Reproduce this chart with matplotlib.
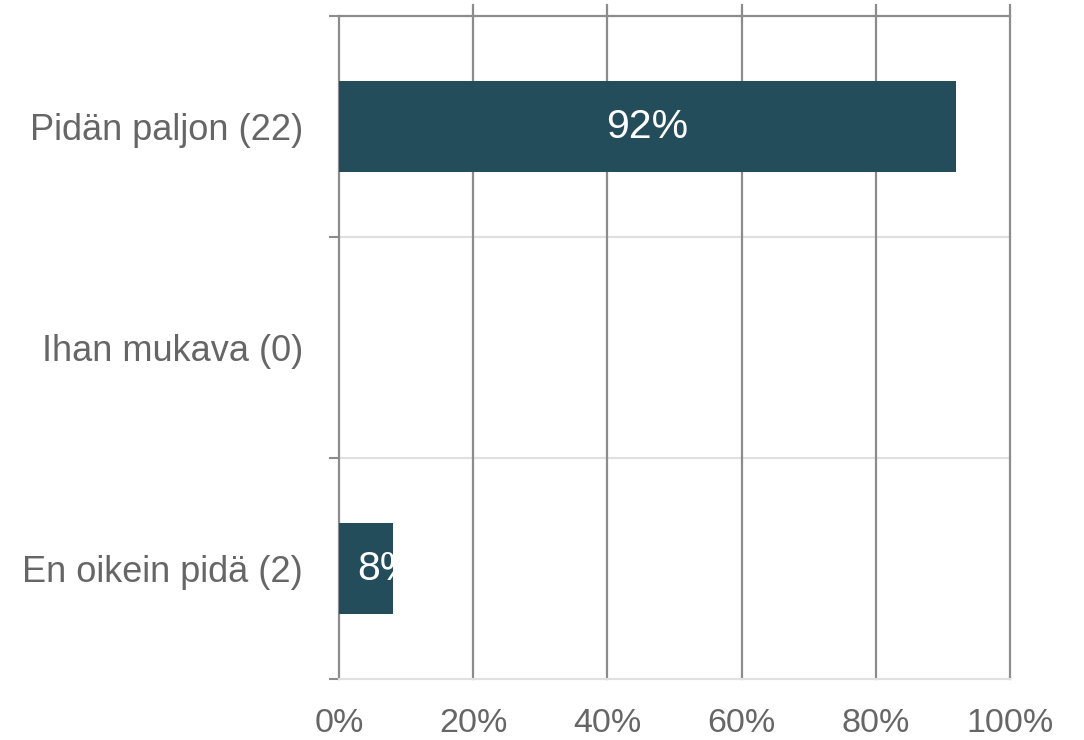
import matplotlib.pyplot as plt

plt.rcParams['font.family'] = ['Liberation Sans', 'DejaVu Sans']

categories = ['Pidän paljon (22)', 'Ihan mukava (0)', 'En oikein pidä (2)']
values = [92, 0, 8]
bar_labels = ['92%', '', '8%']
xticks = [0, 20, 40, 60, 80, 100]
xtick_labels = ['0%', '20%', '40%', '60%', '80%', '100%']

bar_color = '#234d5a'
dark = '#8c8c8c'
light = '#e0e0e0'
text_gray = '#666666'

fig = plt.figure(figsize=(10.84, 7.4), dpi=100)
ax = fig.add_axes([339 / 1084, 1 - 679 / 740, 671 / 1084, 663 / 740])

ypos = list(range(len(categories)))
bars = ax.barh(ypos, values, height=0.41, color=bar_color, zorder=3)
ax.set_xlim(0, 100)
ax.set_ylim(len(categories) - 0.5, -0.5)

# vertical grid lines run a bit above the plot area
for x in xticks[1:]:
    ax.axvline(x, ymin=0, ymax=1.0166, color=dark, lw=1.6, clip_on=False, zorder=1)
# category separators
for y in [0.5, 1.5]:
    ax.axhline(y, color=light, lw=1.5, zorder=0)

for bar, v, lab in zip(bars, values, bar_labels):
    if not lab:
        continue
    yc = bar.get_y() + bar.get_height() / 2
    if v > 20:
        t = ax.text(v / 2, yc, lab, ha='center', va='center', color='white',
                    fontsize=29.5, zorder=4)
    else:
        t = ax.annotate(lab, (0, yc), xytext=(13, 0), textcoords='offset points',
                        ha='left', va='center', color='white', fontsize=29.5, zorder=4)
    t.set_clip_path(bar)

ax.set_xticks(xticks)
ax.set_xticklabels(xtick_labels)
ax.set_yticks(ypos)
ax.set_yticklabels(categories)
ax.set_yticks([-0.5, 0.5, 1.5, 2.5], minor=True)

ax.tick_params(axis='x', length=0, pad=21, labelsize=24.5, labelcolor=text_gray)
ax.tick_params(axis='y', which='major', length=0, pad=26, labelsize=26, labelcolor=text_gray)
ax.tick_params(axis='y', which='minor', length=7.5, width=1.5, color=dark)

ax.spines['left'].set_color(dark)
ax.spines['left'].set_linewidth(1.6)
ax.spines['top'].set_color(dark)
ax.spines['top'].set_linewidth(1.6)
ax.spines['bottom'].set_color(light)
ax.spines['bottom'].set_linewidth(1.5)
ax.spines['right'].set_visible(False)

fig.savefig('out.png', dpi=100)
